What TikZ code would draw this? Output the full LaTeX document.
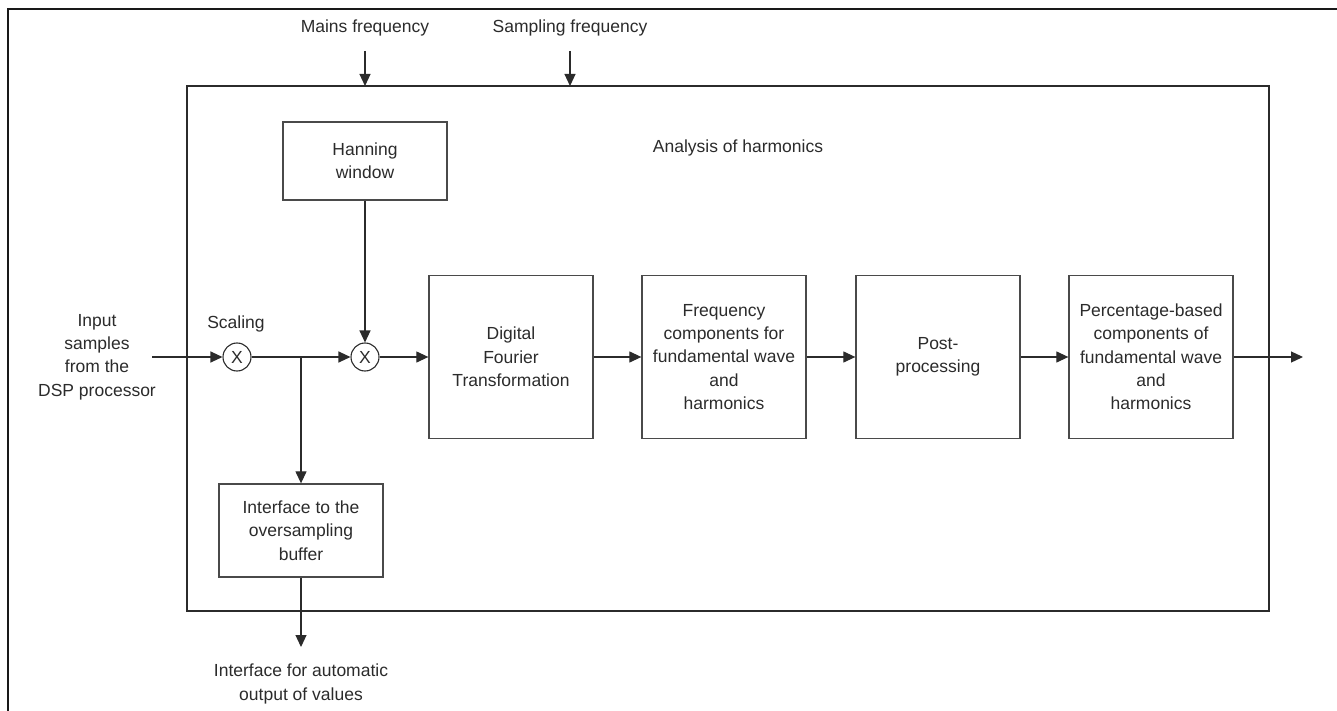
\documentclass[tikz,border=0pt]{standalone}
\usepackage{fontspec}
\setmainfont{Liberation Sans}
\usetikzlibrary{arrows.meta}
\definecolor{ink}{HTML}{2B2B2B}
\definecolor{boxline}{HTML}{4A4A4A}
\begin{document}
\begin{tikzpicture}[x=1pt,y=-1pt,
  every node/.style={text=ink,font=\fontsize{17.5}{23.3}\selectfont,inner sep=0pt},
  block/.style={draw=boxline,line width=1.3pt,minimum width=164pt,align=center},
  mult/.style={draw=ink,circle,line width=1.1pt,minimum size=28pt},
  flow/.style={draw=ink,line width=1.2pt,-{Triangle[length=12pt,width=11pt]}},
  wire/.style={draw=ink,line width=1.2pt}]
\useasboundingbox (0,0) rectangle (1337,711);

% outer frame (top and left edges)
\draw[line width=1.6pt,draw=black!90] (8,711) -- (8,9) -- (1337,9);

% analysis block
\draw[line width=1.4pt,draw=ink] (187,86) rectangle (1269,611);
\node (title) at (738,148) {Analysis of harmonics};

% external inputs
\node (mains) at (365,28) {Mains frequency};
\node (samp) at (570,28) {Sampling frequency};
\coordinate (mainsS) at (365,51);
\coordinate (mainsE) at (365,86);
\coordinate (sampS) at (570,51);
\coordinate (sampE) at (570,86);
\draw[flow] (mainsS) -- (mainsE);
\draw[flow] (sampS) -- (sampE);

% processing blocks
\node[block,minimum height=78pt] (hann) at (365,161) {Hanning\\window};
\node[block,minimum height=163pt] (dft) at (511,357) {Digital\\Fourier\\Transformation};
\node[block,minimum height=163pt] (freq) at (724,357) {Frequency\\components for\\fundamental wave\\and\\harmonics};
\node[block,minimum height=163pt] (post) at (938,357) {Post-\\processing};
\node[block,minimum height=163pt] (pct) at (1151,357) {Percentage-based\\components of\\fundamental wave\\and\\harmonics};
\node[block,minimum height=93pt] (buf) at (301,530.5) {Interface to the\\oversampling\\buffer};

% multipliers
\node[mult] (m1) at (237,357) {X};
\node[mult] (m2) at (365,357) {X};
\node (scal) at (236,324) {Scaling};

% input
\node[align=center] (input) at (97,357) {Input\\samples\\from the\\DSP processor};
\coordinate (inS) at (152,357);
\coordinate (branch) at (301,357);
\coordinate (outE) at (1303,357);
\coordinate (autoE) at (301,647);
\node[align=center] (auto) at (301,684) {Interface for automatic\\output of values};

% signal flow
\draw[flow] (inS) -- (m1);
\draw[flow] (m1) -- (m2);
\draw[flow] (branch) -- (buf);
\draw[flow] (hann) -- (m2);
\draw[flow] (m2) -- (dft);
\draw[flow] (dft) -- (freq);
\draw[flow] (freq) -- (post);
\draw[flow] (post) -- (pct);
\draw[flow] (pct) -- (outE);
\draw[flow] (buf) -- (autoE);
\end{tikzpicture}
\end{document}
